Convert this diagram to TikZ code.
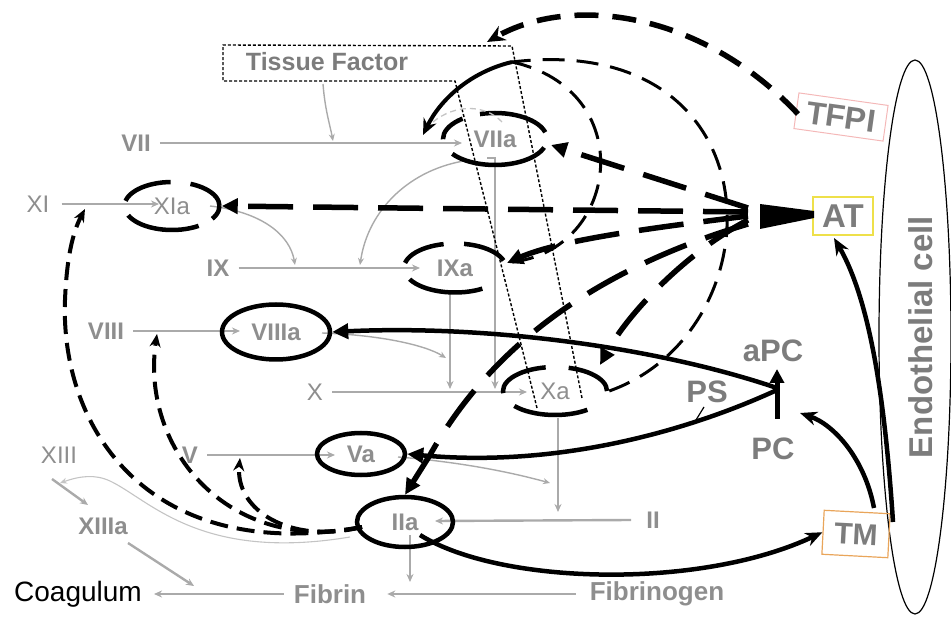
\documentclass[tikz,border=0pt]{standalone}
\usepackage{fontspec}
\setmainfont{Liberation Sans}
\usetikzlibrary{shapes.geometric,arrows.meta}
\definecolor{txtgray}{HTML}{8E8E8E}
\definecolor{lbgray}{HTML}{7C7C7C}
\definecolor{lngray}{HTML}{AAAAAA}
\definecolor{thgray}{HTML}{C4C4C4}
\definecolor{tfpired}{HTML}{F4B8B8}
\definecolor{atyellow}{HTML}{EEE04A}
\definecolor{tmorange}{HTML}{E9A55A}
\begin{document}
\begin{tikzpicture}[x=1pt,y=-1pt,
  gl/.style={draw=lngray,line width=2.4pt,-{Stealth[length=8pt,width=7pt]}},
  gc/.style={draw=lngray,line width=1.4pt,-{Stealth[length=7pt,width=6pt]}},
  numr/.style={text=txtgray,inner sep=0pt,font=\fontsize{24}{28}\selectfont},
  numb/.style={text=txtgray,inner sep=0pt,font=\fontsize{24}{28}\selectfont\bfseries},
  lab/.style={text=lbgray,inner sep=0pt,font=\fontsize{31}{36}\selectfont\bfseries},
  fac/.style={ellipse,inner sep=0pt,line width=4.5pt,draw=black},
  atl/.style={draw=black,line width=5.5pt,dash pattern=on 45pt off 20pt},
  arcl/.style={draw=black,line width=3pt,dash pattern=on 22pt off 12pt},
  fb/.style={draw=black,line width=4pt,dash pattern=on 18pt off 9pt,-{Stealth[length=13pt,width=11pt]}},
  blk/.style={draw=black,line width=4.5pt,-{Stealth[length=17pt,width=14pt]}},
  tri/.style={-{Triangle[length=16pt,width=15pt]}}
]
\useasboundingbox (0,0) rectangle (951,617);

% ---------- labels ----------
\node[numb] (vii) at (136,143) {VII};
\node[numr] (xi) at (38,204) {XI};
\node[numb] (ix) at (218,268) {IX};
\node[numb] (viii) at (106,331) {VIII};
\node[numr] (x) at (315,392) {X};
\node[numb] (v) at (190,455) {V};
\node[numr] (xiii) at (59,455) {XIII};
\node[numb] (xiiia) at (103,526) {XIIIa};
\node[numb] (ii) at (653,520) {II};
\node[text=txtgray,inner sep=0pt,font=\fontsize{26}{30}\selectfont\bfseries] (fibrinogen) at (657,594) {Fibrinogen};
\node[text=txtgray,inner sep=0pt,font=\fontsize{26}{30}\selectfont\bfseries] (fibrin) at (330,594) {Fibrin};
\node[text=black,inner sep=0pt,font=\fontsize{28}{32}\selectfont] (coag) at (78,594) {Coagulum};
\node[text=lbgray,inner sep=0pt,font=\fontsize{25}{30}\selectfont\bfseries] (tf) at (327,62) {Tissue Factor};
\node[lab] (apc) at (773,351) {aPC};
\node[lab] (ps) at (707,392) {PS};
\node[lab] (pc) at (773,449) {PC};

% ---------- endothelial cell ----------
\node[draw=black,ellipse,line width=1.2pt,minimum width=72pt,minimum height=554pt,inner sep=0pt] (cell) at (915,337) {};
\node[rotate=90,text=lbgray,inner sep=0pt,font=\fontsize{33}{38}\selectfont\bfseries] (endo) at (921,337) {Endothelial cell};

% ---------- boxes ----------
\node[draw=tfpired,line width=1pt,rotate=-8,minimum width=90pt,minimum height=36pt,inner sep=0pt,text=lbgray,font=\fontsize{32}{36}\selectfont\bfseries] (tfpi) at (841,117) {TFPI};
\node[draw=atyellow,line width=1.2pt,minimum width=60pt,minimum height=38pt,inner sep=0pt,text=lbgray,font=\fontsize{33}{36}\selectfont\bfseries] (at) at (843,216) {AT};
\node[draw=tmorange,line width=1.2pt,rotate=-3,minimum width=66pt,minimum height=44pt,inner sep=0pt,text=lbgray,font=\fontsize{30}{34}\selectfont\bfseries] (tm) at (856,534) {TM};

% ---------- named points ----------
\coordinate (viiend) at (462,143);
\coordinate (xiend) at (159,204);
\coordinate (ixend) at (420,268);
\coordinate (viiiend) at (240,331);
\coordinate (xend) at (527,392);
\coordinate (vend) at (335,455);
\coordinate (iiend) at (435,521);
\coordinate (iiabot) at (410,535);
\coordinate (fibtop) at (410,582);
\coordinate (xabot) at (558,418);
\coordinate (iiline) at (558,512);
\coordinate (viiabot) at (487,158);
\coordinate (viiabot2) at (495,158);
\coordinate (xline1) at (495,389);
\coordinate (ixabot) at (450,294);
\coordinate (xline2) at (450,389);
\coordinate (xiiis) at (52,479);
\coordinate (xiiian) at (88,505);
\coordinate (xiiias) at (128,543);
\coordinate (fibl) at (194,586);

% ---------- gray conversion arrows ----------
\draw[gl] ([xshift=9pt]vii.east) -- (viiend);
\draw[gl] ([xshift=12pt]xi.east) -- (xiend);
\draw[gl] ([xshift=9pt]ix.east) -- (ixend);
\draw[gl] ([xshift=9pt]viii.east) -- (viiiend);
\draw[gl] ([xshift=9pt]x.east) -- (xend);
\draw[gl] ([xshift=9pt]v.east) -- (vend);
\draw[gl] ([xshift=-15pt]ii.west) -- (iiend);
\draw[gl] ([xshift=-14pt]fibrinogen.west) -- ([xshift=21pt]fibrin.east);
\draw[gl] ([xshift=-10pt]fibrin.west) -- ([xshift=12pt]coag.east);
\draw[gl] (iiabot) -- (fibtop);
\draw[gl] (xabot) -- (iiline);
\draw[gl] (viiabot) -- (viiabot2) -- (xline1);
\draw[gl] (ixabot) -- (xline2);
\draw[gl] (xiiis) -- (xiiian);
\draw[gl] (xiiias) -- (fibl);

% ---------- gray catalysis arrows ----------
\coordinate (tfs) at (323,84);
\coordinate (viil) at (333,141);
\draw[gc] (tfs) .. controls (325,110) and (330,125) .. (viil);
\coordinate (xias) at (210,206);
\coordinate (ixl1) at (295,265);
\draw[gc] (xias) .. controls (262,212) and (290,235) .. (ixl1);
\coordinate (viias) at (470,160);
\coordinate (ixl2) at (360,265);
\draw[gc] (viias) .. controls (410,168) and (368,210) .. (ixl2);
\coordinate (viiias) at (322,333);
\coordinate (xl3) at (446,358);
\draw[gc] (viiias) .. controls (380,335) and (425,345) .. (xl3);
\coordinate (vas) at (398,457);
\coordinate (iil2) at (550,483);
\draw[gc] (vas) .. controls (460,462) and (510,472) .. (iil2);
\coordinate (iiathin) at (350,537);
\coordinate (xiiiline) at (60,483);
\draw[draw=thgray,line width=1.1pt,-{Stealth[length=7pt,width=6pt]}] (iiathin) .. controls (200,562) and (150,500) .. (110,481) .. controls (95,474) and (80,476) .. (xiiiline);

% ---------- tissue factor dotted outline ----------
\draw[line width=1.4pt,dash pattern=on 3pt off 2pt] (537,408) -- (455,81) -- (223,81) -- (223,45) -- (512,46) -- (582,398);

% ---------- factor ellipses ----------
\node[fac,numr,dash pattern=on 39pt off 20pt on 51pt off 15.5pt on 74.5pt off 15.4pt on 60pt off 10pt,minimum width=95pt,minimum height=48pt] (xia) at (172,206) {XIa};
\node[fac,numb,dash pattern=on 0pt off 7pt on 71pt off 18pt on 30pt off 18pt on 98.6pt off 16.4pt,minimum width=104pt,minimum height=52pt] (viia) at (495,139) {VIIa};
\node[fac,numb,dash pattern=on 0pt off 8pt on 44pt off 20.5pt on 44.5pt off 18pt on 76pt off 41pt,minimum width=102pt,minimum height=49pt] (ixa) at (455,268) {IXa};
\node[fac,numr,dash pattern=on 48pt off 23pt on 54.5pt off 17.5pt on 75pt off 29pt,minimum width=104pt,minimum height=48pt] (xa) at (555,391) {Xa};
\node[fac,numb,minimum width=108pt,minimum height=55pt] (viiia) at (276,332) {VIIIa};
\node[fac,numb,minimum width=88pt,minimum height=42pt] (va) at (361,454) {Va};
\node[fac,numb,minimum width=96pt,minimum height=50pt] (iia) at (405,522) {IIa};

% ---------- TFPI inhibition ----------
\coordinate (tfpis) at (798,114);
\coordinate (tfcorner) at (487,42);
\draw[draw=black,line width=5.5pt,dash pattern=on 24pt off 14pt,-{Stealth[length=18pt,width=16pt]}] (tfpis) .. controls (700,10) and (570,-5) .. (tfcorner);

% ---------- AT fan ----------
\coordinate (w1) at (760,204);
\coordinate (w2) at (814,211);
\coordinate (w3) at (814,218);
\coordinate (w4) at (760,229);
\fill (w1) -- (w2) -- (w3) -- (w4) -- cycle;
\coordinate (fan1) at (748,208);
\coordinate (fan2) at (748,212);
\coordinate (fan3) at (748,216);
\coordinate (fan4) at (748,220);
\coordinate (fan5) at (748,224);
\coordinate (viiatip) at (551,145);
\coordinate (ixatip) at (507,263);
\coordinate (xatip) at (600,365);
\coordinate (vajoin) at (430,455);
\draw[atl,tri] (fan2) -- (xia.east);
\draw[atl,tri] (fan1) -- (viiatip);
\draw[atl,tri] (fan3) .. controls (650,228) and (560,240) .. (ixatip);
\draw[atl,tri] (fan4) .. controls (690,250) and (630,310) .. (xatip);
\draw[atl,tri] (fan5) .. controls (620,262) and (500,330) .. (vajoin) -- (iia.north);

% ---------- feedback arcs to VII ----------
\coordinate (join) at (512,62);
\coordinate (ixar) at (512,262);
\coordinate (viitip) at (423,135);
\draw[arcl] (ixar) .. controls (620,250) and (640,90) .. (join);
\draw[arcl] (xa.east) .. controls (780,330) and (780,30) .. (join);
\draw[draw=black,line width=4pt,-{Stealth[length=16pt,width=14pt]}] (join) .. controls (470,72) and (440,100) .. (viitip);
\coordinate (ga1) at (433,122);
\coordinate (ga2) at (502,122);
\draw[draw=thgray,line width=1.3pt,dash pattern=on 6pt off 4pt] (ga1) .. controls (455,104) and (485,104) .. (ga2);

% ---------- thrombin feedback ----------
\coordinate (iiaw) at (362,527);
\coordinate (xitip) at (85,209);
\coordinate (viiitip) at (157,334);
\coordinate (vtip) at (240,458);
\draw[fb] (iiaw) .. controls (150,565) and (60,430) .. (65,300) .. controls (67,250) and (75,228) .. (xitip);
\draw[fb] (iiaw) .. controls (230,555) and (140,450) .. (viiitip);
\draw[fb] (iiaw) .. controls (290,545) and (235,510) .. (vtip);

% ---------- protein C pathway ----------
\coordinate (apcpt) at (777,388);
\coordinate (apcpt2) at (777,390);
\coordinate (pcbar) at (777,419);
\coordinate (apctip) at (777,369);
\coordinate (pstick1) at (704,407);
\coordinate (pstick2) at (696,420);
\draw[draw=black,line width=4.5pt,tri] (apcpt) .. controls (650,345) and (480,325) .. (viiia.east);
\draw[draw=black,line width=4.5pt,tri] (apcpt2) .. controls (690,430) and (560,468) .. (va.east);
\draw[draw=black,line width=5pt,-{Triangle[length=14pt,width=14pt]}] (pcbar) -- (apctip);
\draw[draw=black,line width=1.2pt] (pstick1) -- (pstick2);

% ---------- thrombomodulin ----------
\coordinate (iiain) at (420,535);
\coordinate (tmtop) at (874,508);
\coordinate (pctip) at (800,413);
\coordinate (cellpt) at (893,522);
\coordinate (attip) at (834,238);
\draw[blk] (iiain) .. controls (500,585) and (700,590) .. (tm.west);
\draw[blk] (tmtop) .. controls (865,460) and (835,425) .. (pctip);
\draw[blk] (cellpt) .. controls (885,400) and (870,300) .. (attip);
\end{tikzpicture}
\end{document}
